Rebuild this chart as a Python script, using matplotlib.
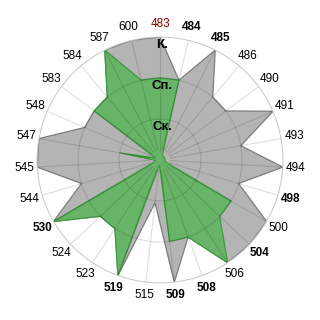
import numpy as np
import matplotlib.pyplot as plt

plt.rcParams["font.family"] = ["Liberation Sans", "DejaVu Sans"]

categories = ["483", "484", "485", "486", "490", "491", "493", "494", "498",
              "500", "504", "506", "508", "509", "515", "519", "523", "524",
              "530", "544", "545", "547", "548", "583", "584", "587", "600"]
bold_labels = ["484", "485", "498", "504", "508", "509", "519", "530"]
red_labels = ["483"]

# levels: 1 = Ск., 2 = Сп., 3 = К.
grey_values = [3, 2, 3, 2, 2, 3, 2, 3, 2, 3, 3, 3, 2, 3, 1.05, 3, 2, 2,
               3, 2, 3, 3, 2, 2, 2, 3, 3]
green_values = [2, 2, 0.12, 0.12, 0.12, 0.12, 0.12, 0.12, 0.12, 2, 2, 3, 2, 2,
                0.12, 3, 2, 2, 3, 0.12, 0.12, 1, 0.12, 2, 2, 3, 2]
ring_labels = ["Ск.", "Сп.", "К."]
ring_levels = [1, 2, 3]


def draw():
    n = len(categories)
    angles = np.linspace(0, 2 * np.pi, n, endpoint=False)
    ang_closed = np.append(angles, angles[0])

    fig = plt.figure(figsize=(3.2, 3.2), dpi=100)
    ax = fig.add_axes([0.1156, 0.1156, 0.769, 0.769], projection="polar")
    ax.set_theta_zero_location("N")
    ax.set_theta_direction(-1)
    ax.set_ylim(0, 3)

    grey = np.append(grey_values, grey_values[0])
    green = np.append(green_values, green_values[0])
    ax.fill(ang_closed, grey, facecolor="#b4b4b4", edgecolor="#7c7c7c",
            linewidth=0.9, zorder=1)
    ax.fill(ang_closed, green, facecolor="#68b468", edgecolor="#3c9c3c",
            linewidth=0.9, zorder=1.5)

    # rings and spokes drawn on top, semi-transparent
    ax.set_xticks(angles)
    ax.set_xticklabels([])
    ax.set_yticks(ring_levels)
    ax.set_yticklabels([])
    ax.xaxis.grid(False)
    ax.set_axisbelow(False)
    ax.yaxis.grid(True, color="black", alpha=0.13, linewidth=0.8)
    for a in angles:
        ax.plot([a, a], [0.25, 3], color="black", alpha=0.13,
                linewidth=0.8, zorder=2.5)
    ax.spines["polar"].set_color("#dcdcdc")
    ax.spines["polar"].set_linewidth(0.8)

    for a, lab in zip(angles, categories):
        weight = "bold" if lab in bold_labels else "normal"
        color = "#8b0000" if lab in red_labels else "black"
        ax.text(a, 3.32, lab, ha="center", va="center", fontsize=8.5,
                fontweight=weight, color=color)

    for lvl, lab in zip(ring_levels, ring_labels):
        r = lvl - 0.2
        ax.text(0.06 / lvl, r, lab, ha="center", va="center", fontsize=9.5,
                fontweight="bold", color="black", zorder=5)

    fig.savefig("out.png", dpi=100)
    plt.close(fig)


if __name__ == "__main__":
    draw()
